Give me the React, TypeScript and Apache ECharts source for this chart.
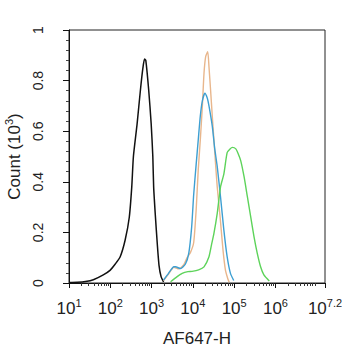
import React, { useEffect, useRef } from "react";
import * as echarts from "echarts";

// x values are log10 of AF647-H intensity; y values are counts in thousands
const blackSeries: [number, number][] = [
  [1.0, 0.002], [1.2, 0.003], [1.4, 0.006], [1.59, 0.013], [1.83, 0.032], [2.0, 0.051],
  [2.12, 0.075], [2.24, 0.104], [2.36, 0.17], [2.46, 0.26], [2.52, 0.38], [2.56, 0.5],
  [2.65, 0.63], [2.73, 0.763], [2.79, 0.85], [2.83, 0.885], [2.86, 0.88], [2.93, 0.763],
  [2.99, 0.63], [3.03, 0.5], [3.05, 0.38], [3.09, 0.27], [3.14, 0.15], [3.18, 0.07],
  [3.23, 0.025], [3.29, 0.004],
];
const orangeSeries: [number, number][] = [
  [3.29, 0.01], [3.41, 0.035], [3.54, 0.062], [3.66, 0.056], [3.78, 0.072], [3.86, 0.1],
  [3.94, 0.12], [4.02, 0.16], [4.08, 0.29], [4.13, 0.447], [4.18, 0.565], [4.23, 0.7],
  [4.27, 0.83], [4.31, 0.895], [4.36, 0.914], [4.39, 0.855], [4.43, 0.76], [4.47, 0.66],
  [4.51, 0.565], [4.55, 0.47], [4.59, 0.38], [4.66, 0.26], [4.73, 0.13], [4.79, 0.05],
  [4.85, 0.015], [4.88, 0.003],
];
const blueSeries: [number, number][] = [
  [3.29, 0.012], [3.41, 0.038], [3.54, 0.064], [3.58, 0.064], [3.7, 0.057], [3.82, 0.075],
  [3.9, 0.117], [3.97, 0.22], [4.02, 0.35], [4.08, 0.47], [4.13, 0.565], [4.18, 0.66],
  [4.23, 0.72], [4.29, 0.75], [4.35, 0.73], [4.39, 0.7], [4.47, 0.62], [4.53, 0.53],
  [4.59, 0.46], [4.67, 0.34], [4.75, 0.21], [4.83, 0.104], [4.91, 0.038], [4.99, 0.01],
];
const greenSeries: [number, number][] = [
  [3.46, 0.005], [3.62, 0.025], [3.74, 0.038], [3.88, 0.045], [3.98, 0.046], [4.14, 0.052],
  [4.27, 0.064], [4.39, 0.104], [4.45, 0.15], [4.51, 0.196], [4.59, 0.275], [4.67, 0.38],
  [4.75, 0.43], [4.83, 0.515], [4.9, 0.53], [4.96, 0.536], [5.04, 0.53], [5.1, 0.51],
  [5.16, 0.483], [5.24, 0.42], [5.32, 0.341], [5.4, 0.262], [5.48, 0.183], [5.56, 0.117],
  [5.64, 0.064], [5.72, 0.032], [5.85, 0.008],
];
const xMajorTicks = [1, 2, 3, 4, 5, 6, 7.2];
const xMin = 1;
const xMax = 7.2;
const xDecades = [1, 2, 3, 4, 5, 6, 7];
const minorMultipliers = [2, 3, 4, 5, 6, 7, 8, 9];

const xMinorTicks: number[] = [];
xDecades.forEach((d) =>
  minorMultipliers.forEach((k) => {
    const v = d + Math.log10(k);
    if (v < xMax) xMinorTicks.push(v);
  })
);

const FONT = "Liberation Sans, Arial, sans-serif";

export default function App() {
  const ref = useRef<HTMLDivElement>(null);
  useEffect(() => {
    if (!ref.current) return;
    const chart = echarts.init(ref.current, undefined, { renderer: "svg" });
    const lineSeries = (data: [number, number][], color: string, width: number) => ({
      type: "line",
      data,
      xAxisIndex: 0,
      yAxisIndex: 0,
      showSymbol: false,
      smooth: 0.2,
      lineStyle: { color, width },
    });
    chart.setOption({
      animation: false,
      backgroundColor: "#fff",
      grid: {
        left: 69,
        right: 17,
        top: 30,
        bottom: 67,
        containLabel: false,
        outerBoundsMode: "none",
        show: true,
        borderColor: "#222",
        borderWidth: 1,
        backgroundColor: "transparent",
      },
      xAxis: [
        {
          type: "value",
          min: xMin,
          max: xMax,
          interval: 1,
          position: "bottom",
          axisLine: { show: true, lineStyle: { color: "#111", width: 1 } },
          axisTick: { show: true, length: 5, customValues: xMajorTicks, lineStyle: { color: "#111" } },
          splitLine: { show: false },
          axisLabel: {
            customValues: xMajorTicks,
            margin: 14,
            formatter: (v: number) => `{b|10}{s|${Number(v.toFixed(1))}}`,
            rich: {
              b: { fontSize: 17, fontFamily: FONT, color: "#222", lineHeight: 20, verticalAlign: "bottom" },
              s: { fontSize: 11, fontFamily: FONT, color: "#222", lineHeight: 20, verticalAlign: "top" },
            },
          },
          name: "AF647-H",
          nameLocation: "middle",
          nameGap: 47,
          nameTextStyle: { fontSize: 17, fontFamily: FONT, color: "#222" },
        },
        {
          type: "value",
          min: xMin,
          max: xMax,
          position: "bottom",
          axisLine: { show: false },
          axisTick: { show: true, length: 3, customValues: xMinorTicks, lineStyle: { color: "#333" } },
          axisLabel: { show: false },
          splitLine: { show: false },
        },
      ],
      yAxis: {
        type: "value",
        min: 0,
        max: 1,
        interval: 0.2,
        axisLine: { show: true, lineStyle: { color: "#111", width: 1 } },
        axisTick: { show: true, length: 6, lineStyle: { color: "#111" } },
        minorTick: { show: true, splitNumber: 5, length: 3, lineStyle: { color: "#444" } },
        splitLine: { show: false },
        minorSplitLine: { show: false },
        axisLabel: {
          rotate: 90,
          margin: 24,
          fontSize: 14,
          fontFamily: FONT,
          color: "#222",
          formatter: (v: number) => String(Number(v.toFixed(1))),
        },
        name: "{b|Count (10}{s|3}{b|)}",
        nameLocation: "middle",
        nameGap: 42,
        nameTextStyle: {
          rich: {
            b: { fontSize: 17, fontFamily: FONT, color: "#222", lineHeight: 20, verticalAlign: "bottom" },
            s: { fontSize: 11, fontFamily: FONT, color: "#222", lineHeight: 20, verticalAlign: "top" },
          },
        },
      },
      series: [
        lineSeries(blackSeries, "#111111", 1.5),
        lineSeries(orangeSeries, "#e8b68c", 1.4),
        lineSeries(blueSeries, "#3d9fd2", 1.4),
        lineSeries(greenSeries, "#5dd35a", 1.4),
      ],
    });
    return () => chart.dispose();
  }, []);
  return (
    <div
      ref={ref}
      style={{ position: "fixed", left: 0, top: 0, width: 342, height: 350 }}
    />
  );
}
